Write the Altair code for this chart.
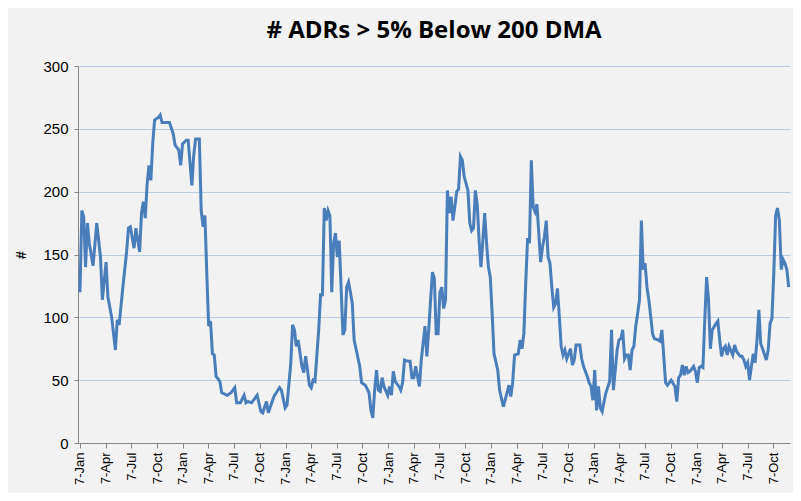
import altair as alt
import pandas as pd

# (step, value); one step ~ 6.63 days from 7-Jan-2008
points_2008 = [(0,120),(1,185),(2,180),(3,140),(4,175),(5,159),(7,141),(9,175),(11,148),(12,114),(14,144),(15,116),(17,100),(19,74),(20,98),(21,94),(23,124),(25,152),(26,171),(27,172),(29,155),(30,171),(32,152),(33,183),(34,192),(35,179),(36,206),(37,221),(38,209),(39,238),(40,257),(42,259),(43,261),(44,255),(47,255),(48,255),(50,246)]
points_2009 = [(51,237),(53,233),(54,221),(55,238),(57,241),(58,241),(60,205),(61,229),(62,242),(64,242),(65,185),(66,172),(67,181),(68,135),(69,93),(70,97),(71,71),(72,70),(73,53),(75,49),(76,40),(79,38),(81,40),(83,44),(84,32),(86,32),(88,38),(89,32),(90,33),(92,32),(95,38),(97,25),(98,24),(100,33)]
points_2010 = [(101,24),(104,37),(107,44),(108,42),(110,28),(111,30),(113,63),(114,94),(115,90),(116,77),(117,82),(119,61),(120,56),(121,69),(122,58),(123,46),(124,44),(125,50),(126,49),(128,90),(129,118),(130,118),(131,187),(132,177),(133,185),(134,181),(135,120),(136,159),(137,167),(138,148),(139,161),(140,124),(141,86),(142,90),(143,124),(144,128),(145,120),(146,111),(147,82),(148,75),(150,61),(151,48)]
points_2011 = [(153,46),(155,40),(156,26),(157,20),(158,42),(159,58),(160,42),(161,41),(162,52),(163,45),(165,38),(166,45),(167,38),(168,57),(169,49),(171,45),(172,42),(173,48),(174,66),(176,65),(177,65),(178,52),(179,52),(180,61),(181,53),(182,45),(183,66),(185,93),(186,69),(187,90),(188,114),(189,136),(190,131),(191,87),(192,87),(193,120),(194,124),(195,107),(196,114),(197,201),(198,183),(199,196),(200,177),(201,188),(202,200),(203,202),(204,228)]
points_2012 = [(205,225),(206,212),(208,201),(209,175),(210,169),(211,171),(212,201),(213,190),(214,161),(215,140),(216,161),(217,183),(218,159),(219,140),(220,132),(221,103),(222,71),(224,58),(225,42),(227,29),(229,40),(230,46),(231,37),(232,48),(233,70),(235,71),(236,82),(237,75),(238,87),(239,127),(240,163),(241,159),(242,225),(243,188),(244,184),(245,190),(247,144),(248,156),(249,164),(250,177),(251,148),(252,143),(253,124),(254,108),(255,111),(256,123),(257,101)]
points_2013 = [(258,77),(259,70),(260,74),(261,67),(263,75),(264,62),(265,66),(266,78),(268,78),(269,67),(270,61),(272,53),(273,48),(274,45),(275,34),(276,58),(277,26),(278,45),(279,28),(280,25),(281,33),(282,40),(284,49),(285,90),(286,42),(287,58),(288,74),(289,82),(290,83),(291,90),(292,67),(293,70),(294,70),(295,58),(296,74),(297,77),(298,93),(299,103),(300,114),(301,177),(302,138),(303,143),(304,124),(305,114),(306,101),(307,87),(308,83),(310,82)]
points_2014 = [(311,81),(312,90),(313,69),(314,48),(315,46),(317,50),(319,45),(320,33),(321,52),(322,54),(323,62),(324,54),(325,61),(326,56),(327,57),(329,61),(330,57),(331,48),(332,60),(333,61),(334,60),(335,98),(336,132),(337,114),(338,75),(339,90),(341,95),(342,97),(343,82),(344,69),(345,75),(346,77),(347,70),(348,77),(350,70),(351,78),(352,73),(354,69),(355,69),(356,66),(357,61),(358,64),(359,50),(360,61),(361,71),(362,64),(363,82),(364,106),(365,79),(366,75),(368,66),(369,74),(370,95),(371,99),(372,135),(373,181),(374,187),(375,177),(376,138),(377,146),(378,143),(379,138),(380,124)]

points = points_2008 + points_2009 + points_2010 + points_2011 + points_2012 + points_2013 + points_2014
start = pd.Timestamp("2008-01-07")
df = pd.DataFrame({
    "date": [start + pd.Timedelta(days=s * 6.63) for s, _ in points],
    "value": [v for _, v in points],
})

tick_vals = [alt.DateTime(year=y, month=m, date=7) for y in range(2008, 2015) for m in (1, 4, 7, 10)]

grid = "#b9cde5"
chart = alt.Chart(df).mark_line(color="#4a7ebb", strokeWidth=3).encode(
    x=alt.X("date:T",
            scale=alt.Scale(domain=[alt.DateTime(year=2007, month=12, date=31),
                                    alt.DateTime(year=2014, month=12, date=5)]),
            axis=alt.Axis(values=tick_vals, format="%-d-%b", labelAngle=-90, title=None,
                          grid=False, labelFontSize=13, labelColor="#000",
                          domainColor="#888", tickColor="#888", tickSize=5, labelPadding=4,
                          labelFont="Liberation Sans", labelAlign="right", labelBaseline="middle")),
    y=alt.Y("value:Q", scale=alt.Scale(domain=[0, 300]),
            axis=alt.Axis(values=[0, 50, 100, 150, 200, 250, 300], title="#",
                          titleFontSize=14, titleFont="Liberation Sans", titleFontWeight="bold",
                          titleColor="#000", titlePadding=14,
                          gridColor=grid, gridWidth=1, labelFontSize=15, labelColor="#000",
                          labelFont="Liberation Sans", domainColor="#888", tickSize=4,
                          tickColor="#888", labelPadding=6)),
).properties(
    width=712, height=377,
    title=alt.TitleParams("# ADRs > 5% Below 200 DMA", fontSize=24, font="Open Sans",
                          fontWeight="bold", color="#000", offset=16),
    autosize=alt.AutoSizeParams(type="none"),
    padding={"left": 70, "top": 58, "right": 3, "bottom": 50},
    background="#f2f2f2",
).configure_view(stroke=None)

chart.save("out.html", embed_options={"renderer": "svg", "actions": False})
